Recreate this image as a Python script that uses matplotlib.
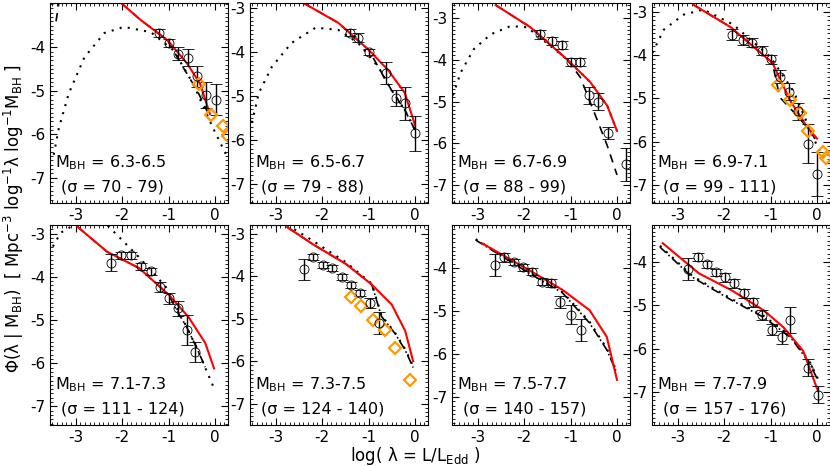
import numpy as np
import matplotlib.pyplot as plt
from matplotlib.ticker import MultipleLocator

# panel labels
mbh_bins = ["6.3-6.5", "6.5-6.7", "6.7-6.9", "6.9-7.1",
            "7.1-7.3", "7.3-7.5", "7.5-7.7", "7.7-7.9"]
sigma_bins = ["70 - 79", "79 - 88", "88 - 99", "99 - 111",
              "111 - 124", "124 - 140", "140 - 157", "157 - 176"]
ylims = [(-7.58, -2.98), (-7.43, -2.89), (-7.42, -2.65), (-7.42, -2.8),
         (-7.43, -2.8), (-7.5, -2.8), (-7.65, -3.0), (-7.77, -3.14)]

# red solid model
red_x = [[-2.02, -1.6, -1.02, -0.6, -0.32, -0.11],
         [-2.4, -1.65, -1.0, -0.58, -0.22, 0.0],
         [-2.61, -1.86, -1.07, -0.58, -0.21, 0.0],
         [-2.66, -1.87, -0.96, -0.58, -0.21, 0.0],
         [-2.96, -2.32, -1.63, -0.99, -0.57, -0.21, -0.02],
         [-2.75, -2.2, -1.48, -0.93, -0.5, -0.21, -0.04],
         [-2.91, -1.89, -1.17, -0.59, -0.22, 0.0],
         [-3.32, -2.54, -1.84, -1.14, -0.72, -0.3, 0.02]]
red_y = [[-2.98, -3.37, -3.84, -4.37, -4.84, -5.53],
         [-2.89, -3.34, -3.95, -4.41, -4.93, -5.66],
         [-2.7, -3.23, -4.0, -4.53, -5.1, -5.7],
         [-2.84, -3.35, -4.18, -5.05, -5.67, -5.93],
         [-2.84, -3.42, -3.8, -4.42, -4.93, -5.53, -6.12],
         [-2.85, -3.25, -3.72, -4.2, -4.67, -5.29, -6.0],
         [-3.42, -4.05, -4.51, -4.98, -5.6, -6.6],
         [-3.56, -4.26, -4.65, -5.12, -5.51, -6.05, -6.98]]

# black dashed (top) / dash-dot (bottom) model
dash_x = [[-2.02, -1.6, -1.02, -0.68, -0.38, -0.17],
          [-2.4, -1.65, -1.0, -0.79, -0.51, -0.22, 0.0],
          [-2.61, -1.86, -1.07, -0.79, -0.51, -0.21, 0.0],
          [-2.66, -1.87, -0.96, -0.8, -0.43, -0.15, 0.02],
          [-2.96, -2.32, -1.63, -0.99, -0.85, -0.61, -0.4, -0.21],
          [-2.75, -2.2, -1.48, -0.93, -0.72, -0.43, -0.21, -0.04],
          [-3.04, -1.89, -1.17, -0.59, -0.22, 0.0],
          [-3.38, -2.68, -1.84, -1.14, -0.57, -0.15, 0.02]]
dash_y = [[-2.98, -3.37, -3.84, -4.47, -5.0, -5.47],
          [-2.89, -3.34, -3.95, -4.34, -4.86, -5.32, -5.77],
          [-2.7, -3.23, -4.0, -4.42, -5.2, -6.05, -6.75],
          [-2.84, -3.35, -4.18, -4.98, -5.4, -5.75, -6.05],
          [-2.84, -3.42, -3.8, -4.42, -4.73, -5.16, -5.63, -6.09],
          [-2.85, -3.25, -3.72, -4.2, -4.95, -5.35, -5.74, -6.15],
          [-3.35, -4.12, -4.58, -5.28, -5.9, -6.45],
          [-3.65, -4.35, -4.88, -5.28, -5.74, -6.35, -6.74]]

# black dotted model
dot_x = [[-3.47, -3.36, -3.15, -2.81, -2.38, -1.96, -1.38, -0.89, -0.47, -0.04, 0.3],
         [-3.51, -3.36, -3.08, -2.66, -2.14, -1.65, -1.22, -0.79, -0.51, -0.22, 0.0],
         [-3.53, -3.36, -3.08, -2.72, -2.29, -1.93, -1.07, -0.58, -0.21, 0.0],
         [-3.54, -3.3, -2.87, -2.44, -1.8, -1.0, -0.5, 0.0, 0.2],
         [-3.49, -3.32, -3.04, -2.6, -2.32, -1.63, -1.06, -0.61, -0.4, -0.02],
         [-2.75, -2.3, -1.48, -0.93, -0.72, -0.43, -0.21, -0.04],
         [-3.04, -1.89, -1.17, -0.59, -0.22, 0.0],
         [-3.38, -2.68, -1.84, -1.14, -0.57, -0.15, 0.02]]
dot_y = [[-6.47, -5.86, -5.07, -4.23, -3.67, -3.53, -3.65, -4.07, -4.84, -5.86, -6.6],
         [-5.61, -4.93, -4.34, -3.8, -3.45, -3.5, -3.8, -4.34, -4.86, -5.32, -5.77],
         [-4.85, -4.3, -3.75, -3.4, -3.2, -3.23, -4.0, -4.53, -5.1, -5.7],
         [-3.95, -3.42, -3.07, -2.95, -3.3, -4.05, -4.85, -6.1, -6.5],
         [-3.3, -2.98, -2.8, -2.7, -2.8, -3.55, -4.23, -5.16, -5.63, -6.58],
         [-2.8, -3.1, -3.68, -4.18, -4.93, -5.33, -5.72, -6.12],
         [-3.33, -4.1, -4.56, -5.25, -5.87, -6.42],
         [-3.62, -4.32, -4.85, -5.25, -5.71, -6.32, -6.7]]

# data points with errors
pt_x = [[-1.21, -1.0, -0.79, -0.57, -0.38, -0.19, 0.02],
        [-1.39, -1.22, -1.0, -0.62, -0.41, -0.22, 0.0],
        [-1.65, -1.4, -1.18, -1.0, -0.8, -0.6, -0.4, -0.2, 0.2],
        [-1.83, -1.6, -1.4, -1.18, -1.0, -0.8, -0.6, -0.4, -0.2, 0.0],
        [-2.23, -2.03, -1.81, -1.6, -1.38, -1.19, -1.0, -0.8, -0.6, -0.42],
        [-2.39, -2.2, -1.99, -1.78, -1.57, -1.37, -1.18, -0.97, -0.78],
        [-2.63, -2.43, -2.22, -2.02, -1.83, -1.61, -1.41, -1.22, -1.0, -0.78],
        [-2.77, -2.56, -2.37, -2.18, -1.99, -1.78, -1.56, -1.37, -1.18, -0.97, -0.76, -0.57, -0.19, 0.02]]
pt_y = [[-3.67, -3.9, -4.15, -4.24, -4.67, -5.1, -5.2],
        [-3.57, -3.68, -4.0, -4.48, -5.05, -5.17, -5.85],
        [-3.4, -3.55, -3.65, -4.05, -4.05, -4.85, -5.0, -5.75, -6.5],
        [-3.53, -3.65, -3.72, -3.9, -4.1, -4.5, -4.85, -5.3, -6.05, -6.75],
        [-3.67, -3.5, -3.5, -3.76, -3.87, -4.23, -4.5, -4.73, -5.23, -5.74],
        [-3.84, -3.55, -3.74, -3.81, -4.02, -4.21, -4.4, -4.64, -5.1],
        [-3.93, -3.75, -3.86, -3.98, -4.09, -4.32, -4.35, -4.79, -5.09, -5.44],
        [-4.16, -3.88, -4.05, -4.23, -4.35, -4.49, -4.72, -4.93, -5.23, -5.56, -5.74, -5.33, -6.44, -7.07]]
pt_err = [[0.1, 0.1, 0.15, 0.2, 0.25, 0.3, 0.35],
          [0.08, 0.1, 0.06, 0.25, 0.18, 0.38, 0.4],
          [0.1, 0.1, 0.1, 0.1, 0.1, 0.2, 0.2, 0.15, 0.4],
          [0.12, 0.12, 0.1, 0.1, 0.1, 0.15, 0.2, 0.2, 0.45, 0.5],
          [0.2, 0.08, 0.08, 0.08, 0.08, 0.12, 0.12, 0.18, 0.35, 0.22],
          [0.25, 0.08, 0.08, 0.08, 0.08, 0.08, 0.08, 0.12, 0.25],
          [0.25, 0.1, 0.08, 0.08, 0.08, 0.08, 0.1, 0.15, 0.22, 0.25],
          [0.25, 0.1, 0.08, 0.08, 0.1, 0.1, 0.1, 0.1, 0.12, 0.12, 0.15, 0.3, 0.2, 0.2]]

# orange diamonds
dia_x = [[-0.34, -0.09, 0.17, 0.28], [], [], [-0.83, -0.58, -0.37, -0.19, 0.13, 0.2],
         [], [-1.37, -1.16, -0.9, -0.64, -0.42, -0.1], [], []]
dia_y = [[-4.85, -5.55, -5.82, -6.03], [], [], [-4.7, -5.05, -5.35, -5.75, -6.25, -6.38],
         [], [-4.5, -4.7, -5.03, -5.26, -5.7, -6.45], [], []]

fig = plt.figure(figsize=(8.3, 4.66), dpi=100)
W, H = 830.0, 466.0
lefts = [50, 250, 452, 652]
tops = [3, 225]

for k in range(8):
    r, c = divmod(k, 4)
    ax = fig.add_axes([lefts[c] / W, 1 - (tops[r] + 200) / H, 178 / W, 200 / H])
    ax.plot(dot_x[k], dot_y[k], color='black', ls=(0, (1, 3)), lw=1.5)
    if r == 0:
        ax.plot(dash_x[k], dash_y[k], color='black', ls=(0, (5, 4)), lw=1.2)
    else:
        ax.plot(dash_x[k], dash_y[k], color='black', ls=(0, (5, 2, 1, 2)), lw=1.2)
    ax.plot(red_x[k], red_y[k], color='red', lw=1.5)
    ax.errorbar(pt_x[k], pt_y[k], yerr=pt_err[k], fmt='o', mfc='none', mec='black',
                ecolor='black', ms=6.5, mew=0.6, capsize=4, elinewidth=1)
    if dia_x[k]:
        ax.plot(dia_x[k], dia_y[k], 'D', mfc='none', mec='#ff9900', ms=6, mew=1.6)
    if k == 0:
        ax.plot([-3.42, -3.36], [-3.4, -2.98], color='black', ls=(0, (5, 4)), lw=1.2)
    ax.set_xlim(-3.55, 0.28)
    ax.set_ylim(*ylims[k])
    ax.set_xticks([-3, -2, -1, 0])
    ax.set_xticklabels(['-3', '-2', '-1', '0'])
    yt = [t for t in [-7, -6, -5, -4, -3] if ylims[k][1] - t > 0.05]
    ax.set_yticks(yt)
    ax.set_yticklabels([str(t) for t in yt])
    ax.xaxis.set_minor_locator(MultipleLocator(0.1))
    ax.yaxis.set_minor_locator(MultipleLocator(0.1))
    ax.tick_params(which='both', direction='in', top=True, right=True, labelsize=11)
    ax.tick_params(which='major', length=5)
    ax.tick_params(which='minor', length=2)
    ax.text(0.03, 0.18, r"M$_{\rm BH}$ = " + mbh_bins[k], transform=ax.transAxes, fontsize=11.5)
    ax.text(0.06, 0.06, "(σ = " + sigma_bins[k] + ")", transform=ax.transAxes, fontsize=11.5)

fig.text(14 / W, 0.53, r"Φ(λ | M$_{\rm BH}$)  [ Mpc$^{-3}$ log$^{-1}$λ log$^{-1}$M$_{\rm BH}$ ]",
         rotation=90, ha='center', va='center', fontsize=12)
fig.text(415 / W, 1 - 456 / H, r"log( λ = L/L$_{\rm Edd}$ )", ha='center', va='center', fontsize=12)

fig.savefig("out.png", dpi=100)
